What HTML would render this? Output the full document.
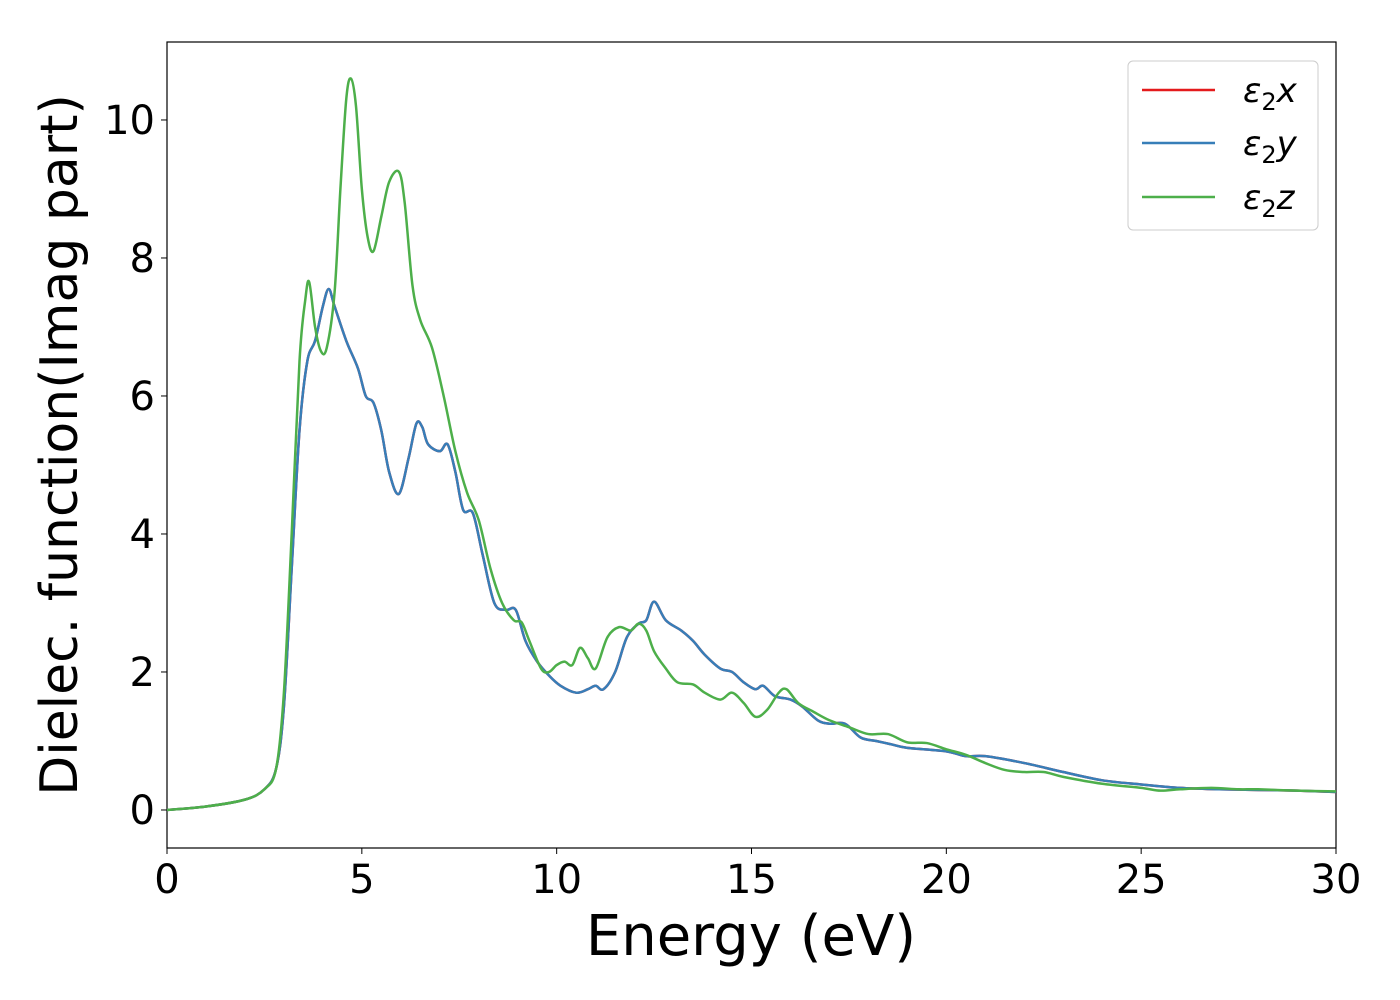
<!DOCTYPE html>
<html><head><meta charset="utf-8"><style>
body{margin:0;background:#fff;}
svg{display:block;font-family:"DejaVu Sans","Liberation Sans",sans-serif;}
</style></head><body>
<svg id="chart" width="1400" height="1000">
<rect x="167" y="42" width="1169" height="806" fill="#fff" stroke="#000" stroke-width="1.2"/>
<g id="series"></g>
<g id="axes"></g>
<text x="751" y="955" font-size="56" text-anchor="middle">Energy (eV)</text>
<text transform="translate(77,445) rotate(-90)" font-size="52" text-anchor="middle">Dielec. function(Imag part)</text>
<g>
<rect x="1128" y="61" width="190" height="169" rx="5" fill="#fff" stroke="#ccc"/>
<g><line x1="1142" y1="90" x2="1215" y2="90" stroke="#e41a1c" stroke-width="2.5"/><text x="1243" y="102" font-size="34" font-style="italic">ε<tspan font-size="24" dy="8" font-style="normal">2</tspan><tspan dy="-8">x</tspan></text></g>
<g><line x1="1142" y1="143" x2="1215" y2="143" stroke="#377eb8" stroke-width="2.5"/><text x="1243" y="155" font-size="34" font-style="italic">ε<tspan font-size="24" dy="8" font-style="normal">2</tspan><tspan dy="-8">y</tspan></text></g>
<g><line x1="1142" y1="197" x2="1215" y2="197" stroke="#4daf4a" stroke-width="2.5"/><text x="1243" y="209" font-size="34" font-style="italic">ε<tspan font-size="24" dy="8" font-style="normal">2</tspan><tspan dy="-8">z</tspan></text></g>
</g>
</svg>
<script>
const xTicks=[0,5,10,15,20,25,30];
const yTicks=[0,2,4,6,8,10];
const energyXY=[0,1,2,2.5,2.8,3.0,3.2,3.4,3.6,3.8,4.0,4.15,4.3,4.6,4.9,5.1,5.3,5.5,5.7,5.95,6.2,6.4,6.55,6.7,7.0,7.2,7.4,7.6,7.85,8.1,8.4,8.7,8.95,9.2,9.5,9.8,10.1,10.5,10.8,11.0,11.2,11.5,11.8,12.1,12.3,12.5,12.8,13.2,13.5,13.8,14.2,14.5,14.8,15.1,15.3,15.6,16.0,16.3,16.7,17.0,17.4,17.8,18.2,18.6,19,20,20.5,21,22,23,24,25,26,27,28,29,30];
const epsXY=[0,0.05,0.15,0.3,0.6,1.5,3.5,5.5,6.5,6.8,7.3,7.55,7.3,6.8,6.4,6.0,5.9,5.5,4.9,4.58,5.1,5.6,5.55,5.3,5.2,5.3,4.9,4.35,4.3,3.7,3.0,2.9,2.9,2.45,2.15,1.95,1.8,1.7,1.75,1.8,1.75,2.0,2.5,2.7,2.75,3.02,2.75,2.6,2.45,2.25,2.05,2.0,1.85,1.75,1.8,1.65,1.6,1.5,1.3,1.25,1.25,1.05,1.0,0.95,0.9,0.85,0.78,0.78,0.68,0.55,0.43,0.37,0.32,0.3,0.29,0.28,0.26];
const energyZ=[0,1,2,2.5,2.8,3.0,3.2,3.4,3.55,3.65,3.8,3.95,4.1,4.3,4.45,4.6,4.72,4.85,5.0,5.15,5.3,5.5,5.7,5.95,6.1,6.3,6.5,6.8,7.1,7.4,7.7,8.0,8.3,8.6,8.9,9.1,9.3,9.6,9.8,10.0,10.2,10.4,10.6,10.8,11.0,11.3,11.6,11.9,12.1,12.3,12.5,12.8,13.1,13.5,13.8,14.2,14.5,14.8,15.1,15.4,15.7,15.9,16.2,16.6,17,17.5,18,18.5,19,19.5,20,20.5,21,21.5,22,22.5,23,24,25,25.5,26,26.8,27.5,28,29,30];
const epsZ=[0,0.05,0.15,0.3,0.6,1.7,4.0,6.5,7.4,7.65,7.0,6.65,6.7,7.5,9.0,10.3,10.6,10.2,9.0,8.3,8.1,8.6,9.1,9.25,8.8,7.6,7.1,6.7,6.0,5.2,4.6,4.2,3.5,3.0,2.75,2.72,2.45,2.05,2.0,2.1,2.15,2.1,2.35,2.2,2.05,2.5,2.65,2.6,2.7,2.6,2.3,2.05,1.85,1.82,1.7,1.6,1.7,1.55,1.35,1.45,1.7,1.75,1.55,1.42,1.3,1.2,1.1,1.1,0.98,0.97,0.88,0.8,0.68,0.58,0.55,0.55,0.48,0.38,0.32,0.28,0.3,0.32,0.3,0.3,0.28,0.27];
const X0=167,X1=1336,Y0=848,Y1=42,xmin=0,xmax=30,ymin=-0.551,ymax=11.13;
const sx=v=>X0+(v-xmin)/(xmax-xmin)*(X1-X0);
const sy=v=>Y0-(v-ymin)/(ymax-ymin)*(Y0-Y1);
const NS="http://www.w3.org/2000/svg";
function pathFor(xs,ys){
  const p=xs.map((x,i)=>[sx(x),sy(ys[i])]);
  let d="M"+p[0][0]+","+p[0][1];
  for(let i=0;i<p.length-1;i++){
    const a=p[i-1]||p[i],b=p[i],c=p[i+1],e=p[i+2]||c;
    const c1=[b[0]+(c[0]-a[0])/6,b[1]+(c[1]-a[1])/6],c2=[c[0]-(e[0]-b[0])/6,c[1]-(e[1]-b[1])/6];
    d+=" C"+c1+" "+c2+" "+c;
  }
  return d;
}
const g=document.getElementById('series');
function addLine(xs,ys,color,name){
  const el=document.createElementNS(NS,'path');
  el.setAttribute('d',pathFor(xs,ys));
  el.setAttribute('fill','none');el.setAttribute('stroke',color);el.setAttribute('stroke-width','2.5');
  
  
  g.appendChild(el);
}
addLine(energyXY,epsXY,'#e41a1c','series-eps2x');
addLine(energyXY,epsXY,'#377eb8','series-eps2y');
addLine(energyZ,epsZ,'#4daf4a','series-eps2z');
const ax=document.getElementById('axes');
xTicks.forEach(t=>{
  const l=document.createElementNS(NS,'line');
  l.setAttribute('x1',sx(t));l.setAttribute('x2',sx(t));l.setAttribute('y1',Y0);l.setAttribute('y2',Y0+6);l.setAttribute('stroke','#000');
  
  
  ax.appendChild(l);
  const tx=document.createElementNS(NS,'text');
  tx.setAttribute('x',sx(t));tx.setAttribute('y',Y0+45);tx.setAttribute('font-size','40');tx.setAttribute('text-anchor','middle');
  tx.textContent=t;
  
  
  ax.appendChild(tx);
});
yTicks.forEach(t=>{
  const l=document.createElementNS(NS,'line');
  l.setAttribute('x1',X0-6);l.setAttribute('x2',X0);l.setAttribute('y1',sy(t));l.setAttribute('y2',sy(t));l.setAttribute('stroke','#000');
  
  
  ax.appendChild(l);
  const tx=document.createElementNS(NS,'text');
  tx.setAttribute('x',X0-12);tx.setAttribute('y',sy(t)+14);tx.setAttribute('font-size','40');tx.setAttribute('text-anchor','end');
  tx.textContent=t;
  
  
  ax.appendChild(tx);
});
</script>
</body></html>
